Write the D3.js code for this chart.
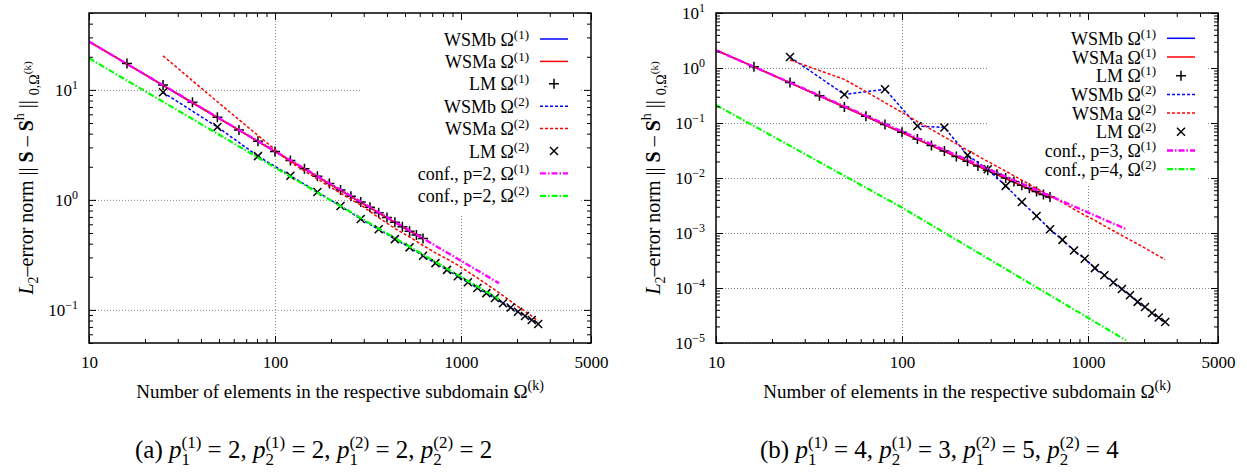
<!DOCTYPE html>
<html>
<head>
<meta charset="utf-8">
<script src="https://cdn.jsdelivr.net/npm/d3@7"></script>
<style>
  body { margin: 0; background: #fff; }
  svg { font-family: 'Liberation Serif', 'Times New Roman', serif; }
</style>
</head>
<body>
<svg width="1247" height="474"></svg>
<script>
// element counts on the two subdomains
const nOmega1 = [9, 16, 25, 36, 49, 64, 81, 100, 121, 144, 169, 196, 225, 256, 289, 324, 361, 400, 441, 484, 529, 576, 625];
const nOmega2 = [25, 49, 81, 121, 169, 225, 289, 361, 441, 529, 625, 729, 841, 961, 1089, 1225, 1369, 1521, 1681, 1849, 2025, 2209, 2401, 2601];

// panel (a)
const wsmbA1 = [30.6, 17.2, 11.0, 7.64, 5.61, 4.30, 3.40, 2.75, 2.27, 1.91, 1.63, 1.40, 1.22, 1.07, 0.95, 0.85, 0.76, 0.69, 0.62, 0.57, 0.52, 0.48, 0.44];
const wsmaA1 = [30.6, 17.2, 11.0, 7.64, 5.61, 4.30, 3.40, 2.75, 2.27, 1.91, 1.63, 1.40, 1.22, 1.07, 0.95, 0.85, 0.76, 0.69, 0.62, 0.57, 0.52, 0.48, 0.44];
const lmA1   = [30.6, 17.4, 11.1, 7.7, 5.64, 4.32, 3.42, 2.76, 2.28, 1.92, 1.64, 1.41, 1.23, 1.08, 0.955, 0.855, 0.765, 0.69, 0.625, 0.57, 0.52, 0.48, 0.445];
const wsmbA2 = [9.5, 4.6, 2.5, 1.66, 1.18, 0.88, 0.67, 0.54, 0.44, 0.37, 0.31, 0.266, 0.231, 0.202, 0.178, 0.158, 0.142, 0.128, 0.115, 0.105, 0.096, 0.088, 0.081, 0.0745];
const wsmaA2 = [20.4, 7.8, 3.85, 2.2, 1.55, 1.15, 0.9, 0.69, 0.55, 0.46, 0.385, 0.33, 0.29, 0.255, 0.222, 0.195, 0.172, 0.152, 0.135, 0.12, 0.107, 0.097, 0.088, 0.079];
const lmA2   = [9.5, 4.6, 2.5, 1.66, 1.18, 0.88, 0.67, 0.54, 0.44, 0.37, 0.31, 0.266, 0.231, 0.202, 0.178, 0.158, 0.142, 0.128, 0.115, 0.105, 0.096, 0.088, 0.081, 0.0745];
const confA1N = [10, 1600];
const confA1 = [27.5, 0.175];
const confA2N = [10, 1600];
const confA2 = [19.4, 0.125];

// panel (b)
const wsmbB1 = [2.48, 1.05, 0.536, 0.31, 0.195, 0.131, 0.092, 0.067, 0.0503, 0.0388, 0.0305, 0.0244, 0.0199, 0.0164, 0.0137, 0.0115, 0.0098, 0.0084, 0.0072, 0.0063, 0.0055, 0.0049, 0.0043];
const wsmaB1 = [2.48, 1.05, 0.536, 0.31, 0.195, 0.131, 0.092, 0.067, 0.0503, 0.0388, 0.0305, 0.0244, 0.0199, 0.0164, 0.0137, 0.0115, 0.0098, 0.0084, 0.0072, 0.0063, 0.0055, 0.0049, 0.0043];
const lmB1   = [2.48, 1.05, 0.545, 0.314, 0.195, 0.132, 0.094, 0.068, 0.051, 0.039, 0.031, 0.0247, 0.0201, 0.0166, 0.0139, 0.0117, 0.01, 0.0086, 0.0074, 0.0065, 0.0057, 0.005, 0.0045];
const wsmbB2 = [1.58, 0.33, 0.41, 0.088, 0.083, 0.026, 0.0144, 0.0072, 0.00366, 0.00204, 0.00117, 7.5e-4, 4.8e-4, 3.4e-4, 2.3e-4, 1.7e-4, 1.26e-4, 9.6e-5, 7.4e-5, 5.6e-5, 4.5e-5, 3.5e-5, 2.9e-5, 2.4e-5];
const wsmaB2 = [1.4, 0.62, 0.236, 0.106, 0.056, 0.032, 0.020, 0.0133, 0.0091, 0.0065, 0.0047, 0.0036, 0.0027, 0.0021, 0.0017, 0.00135, 0.0011, 0.0009, 0.00075, 0.00063, 0.00053, 0.00045, 0.00038, 0.00033];
const lmB2   = [1.58, 0.33, 0.41, 0.088, 0.083, 0.026, 0.0144, 0.0072, 0.00366, 0.00204, 0.00117, 7.5e-4, 4.8e-4, 3.4e-4, 2.3e-4, 1.7e-4, 1.26e-4, 9.6e-5, 7.4e-5, 5.6e-5, 4.5e-5, 3.5e-5, 2.9e-5, 2.4e-5];
const confB1N = [10, 1600];
const confB1 = [2.1, 0.00118];
const confB2N = [10, 100, 1600];
const confB2 = [0.212, 0.0029, 1.12e-5];

// ticks
const xTicks = [10, 100, 1000, 5000];
const xTickLabels = ['10', '100', '1000', '5000'];
const xGrid = [100, 1000];
const yTicksA = [0.1, 1, 10];
const yExpA = ['\u22121', '0', '1'];
const yTicksB = [1e-5, 1e-4, 1e-3, 1e-2, 1e-1, 1, 10];
const yExpB = ['\u22125', '\u22124', '\u22123', '\u22122', '\u22121', '0', '1'];

const legendA = ['WSMb \u03a9|(1)', 'WSMa \u03a9|(1)', 'LM \u03a9|(1)', 'WSMb \u03a9|(2)', 'WSMa \u03a9|(2)', 'LM \u03a9|(2)', 'conf., p=2, \u03a9|(1)', 'conf., p=2, \u03a9|(2)'];
const legendB = ['WSMb \u03a9|(1)', 'WSMa \u03a9|(1)', 'LM \u03a9|(1)', 'WSMb \u03a9|(2)', 'WSMa \u03a9|(2)', 'LM \u03a9|(2)', 'conf., p=3, \u03a9|(1)', 'conf., p=4, \u03a9|(2)'];

const svg = d3.select('svg');
const fontFamily = "'Liberation Serif', 'Times New Roman', serif";
const plotTop = 13, innerWidth = 502, innerHeight = 330;

// lays out text pieces one after another, sub/superscripts included
const piece = (g, q, cx) => g.append('text')
  .attr('x', cx)
  .attr('y', q.dy || 0)
  .attr('font-size', q.size)
  .attr('font-style', q.it ? 'italic' : null)
  .attr('font-weight', q.bold ? 'bold' : null)
  .text(q.t.replace(/ /g, '\u00a0'));

const rich = (parent, parts, anchor) => {
  const g = parent.append('g');
  let cx = 0;
  parts.forEach(p => {
    if (p.stack) {
      const w = p.stack.map(q => piece(g, q, cx).node().getComputedTextLength());
      cx += Math.max(...w);
    } else {
      cx += piece(g, p, cx).node().getComputedTextLength();
    }
  });
  const shift = anchor === 'end' ? -cx : anchor === 'middle' ? -cx / 2 : 0;
  g.selectAll('text').attr('x', function() { return +this.getAttribute('x') + shift; });
  return g;
};

const styles = {
  solidBlue: { color: '#0000ff', dash: null, width: 1.5 },
  solidRed: { color: '#ff0000', dash: null, width: 1.5 },
  dashBlue: { color: '#0000ff', dash: '3,2', width: 1.5 },
  dashRed: { color: '#ff0000', dash: '3,2', width: 1.5 },
  confMag: { color: '#ff00ff', dash: '6,2,1.5,2', width: 2.4 },
  confGreen: { color: '#00ff00', dash: '6,2,1.5,2', width: 2.2 }
};

const drawMarker = (g, type, cx, cy) => {
  const s = type === 'plus' ? 5 : 4;
  const path = type === 'plus'
    ? `M${cx - s},${cy}H${cx + s}M${cx},${cy - s}V${cy + s}`
    : `M${cx - s},${cy - s}L${cx + s},${cy + s}M${cx - s},${cy + s}L${cx + s},${cy - s}`;
  g.append('path').attr('d', path).attr('stroke', '#000').attr('stroke-width', 1.5).attr('fill', 'none');
};

const render = p => {
  const g = svg.append('g').attr('transform', `translate(${p.left},${plotTop})`);
  const xScale = d3.scaleLog().domain([10, 5000]).range([0, innerWidth]);
  const yScale = d3.scaleLog().domain(p.yDomain).range([innerHeight, 0]);

  // grid
  const gridX = g.append('g')
    .attr('transform', `translate(0,${innerHeight})`)
    .call(d3.axisBottom(xScale).tickValues(xGrid).tickSize(-innerHeight));
  const gridY = g.append('g')
    .call(d3.axisLeft(yScale).tickValues(p.yTicks).tickSize(-innerWidth));
  [gridX, gridY].forEach(a => {
    a.select('.domain').remove();
    a.selectAll('text').remove();
    a.selectAll('line').attr('stroke', '#8a8a8a').attr('stroke-dasharray', '1,2');
  });

  // opaque key box
  g.append('rect')
    .attr('x', 271).attr('y', 0)
    .attr('width', 219).attr('height', p.keyHeight)
    .attr('fill', '#fff');

  // data
  const clipId = 'clip' + p.name;
  g.append('clipPath').attr('id', clipId)
    .append('rect').attr('width', innerWidth).attr('height', innerHeight);
  const plot = g.append('g').attr('clip-path', `url(#${clipId})`);
  const line = d3.line().x(d => xScale(d[0])).y(d => yScale(d[1]));

  p.series.forEach(s => {
    const pts = s.n.map((n, i) => [n, s.v[i]]);
    if (s.marker) {
      pts.forEach(d => drawMarker(plot, s.marker, xScale(d[0]), yScale(d[1])));
    } else {
      plot.append('path')
        .attr('d', line(pts))
        .attr('fill', 'none')
        .attr('stroke', s.style.color)
        .attr('stroke-width', s.style.width)
        .attr('stroke-dasharray', s.style.dash);
    }
  });

  // ticks on all four sides
  const minorX = xScale.ticks().filter(t => !xTicks.includes(t));
  const minorY = yScale.ticks().filter(t => !p.yTicks.some(m => Math.abs(m - t) / t < 1e-6));
  const tickAxes = [
    [d3.axisBottom(xScale), `translate(0,${innerHeight})`, xTicks, minorX],
    [d3.axisTop(xScale), null, xTicks, minorX],
    [d3.axisLeft(yScale), null, p.yTicks, minorY],
    [d3.axisRight(yScale), `translate(${innerWidth},0)`, p.yTicks, minorY]
  ];
  tickAxes.forEach(([ax, tr, major, minor]) => {
    const a1 = g.append('g').attr('transform', tr)
      .call(ax.tickValues(major).tickSize(-7));
    const a2 = g.append('g').attr('transform', tr)
      .call(ax.tickValues(minor).tickSize(-4));
    [a1, a2].forEach(a => {
      a.select('.domain').remove();
      a.selectAll('text').remove();
      a.selectAll('line').attr('stroke', '#000').attr('stroke-width', 1);
    });
  });

  // tick labels
  const xLab = g.append('g')
    .attr('transform', `translate(0,${innerHeight})`)
    .call(d3.axisBottom(xScale).tickValues(xTicks).tickSize(0).tickPadding(13)
      .tickFormat((d, i) => xTickLabels[i]));
  const yLab = g.append('g')
    .call(d3.axisLeft(yScale).tickValues(p.yTicks).tickSize(0).tickPadding(11).tickFormat(() => '10'));
  [xLab, yLab].forEach(a => {
    a.select('.domain').remove();
    a.attr('font-family', fontFamily).attr('font-size', 17);
    a.selectAll('.tick line').remove();
    a.selectAll('.tick text').attr('fill', '#000');
  });
  yLab.selectAll('.tick text')
    .append('tspan')
    .attr('dy', '-0.55em')
    .attr('font-size', 12)
    .text((d, i) => p.yExp[i]);

  // frame
  g.append('rect')
    .attr('width', innerWidth).attr('height', innerHeight)
    .attr('fill', 'none').attr('stroke', '#000').attr('stroke-width', 1.5);

  // key
  p.legend.forEach((label, i) => {
    const ry = p.keyTop + i * p.keyStep;
    const [main, sup] = label.split('|');
    const t = rich(g, [
      { t: main, size: 18 },
      { t: sup, size: 13, dy: -7 }
    ], 'end');
    t.attr('transform', `translate(440,${ry + 6.5})`);
    const s = p.series[i];
    if (s.marker) {
      drawMarker(g, s.marker, 465, ry);
    } else {
      g.append('line')
        .attr('x1', 451).attr('x2', 479).attr('y1', ry).attr('y2', ry)
        .attr('stroke', s.style.color)
        .attr('stroke-width', s.style.width)
        .attr('stroke-dasharray', s.style.dash);
    }
  });

  // axis titles
  const xt = rich(g, [
    { t: 'Number of elements in the respective subdomain \u03a9', size: 19 },
    { t: '(k)', size: 14, dy: -8 }
  ], 'middle');
  xt.attr('transform', `translate(${innerWidth / 2},385)`);

  const yt = g.append('g').attr('transform', `translate(-56,${innerHeight / 2}) rotate(-90)`);
  rich(yt, [
    { t: 'L', size: 20, it: true },
    { t: '2', size: 14, dy: 5 },
    { t: '\u2013error norm || ', size: 20 },
    { t: 'S', size: 20, bold: true },
    { t: ' \u2013 ', size: 20 },
    { t: 'S', size: 20, bold: true },
    { t: 'h', size: 14, dy: -9 },
    { t: ' || ', size: 20 },
    { t: '0,\u03a9', size: 14, dy: 6 },
    { t: '(k)', size: 11, dy: -2 }
  ], 'middle');

  // caption
  const cap = [{ t: p.capLabel + ' ', size: 25 }];
  p.capValues.forEach((v, i) => {
    cap.push({ t: 'p', size: 25, it: true });
    cap.push({ stack: [
      { t: i < 2 ? '(1)' : '(2)', size: 17, dy: -10 },
      { t: i % 2 === 0 ? '1' : '2', size: 17, dy: 7 }
    ] });
    cap.push({ t: ' = ' + v + (i < 3 ? ', ' : ''), size: 25 });
  });
  rich(g, cap, 'start').attr('transform', `translate(${p.capX},445)`);
};

render({
  name: 'a', left: 89, yDomain: [0.05, 50], yTicks: yTicksA, yExp: yExpA,
  keyHeight: 203, keyTop: 26, keyStep: 22.4, legend: legendA,
  capLabel: '(a)', capValues: [2, 2, 2, 2], capX: 46,
  series: [
    { n: nOmega1, v: wsmbA1, style: styles.solidBlue },
    { n: nOmega1, v: wsmaA1, style: styles.solidRed },
    { n: nOmega1, v: lmA1, marker: 'plus' },
    { n: nOmega2, v: wsmbA2, style: styles.dashBlue },
    { n: nOmega2, v: wsmaA2, style: styles.dashRed },
    { n: nOmega2, v: lmA2, marker: 'cross' },
    { n: confA1N, v: confA1, style: styles.confMag },
    { n: confA2N, v: confA2, style: styles.confGreen }
  ]
});

render({
  name: 'b', left: 716, yDomain: [1e-5, 10], yTicks: yTicksB, yExp: yExpB,
  keyHeight: 173, keyTop: 25.3, keyStep: 18.7, legend: legendB,
  capLabel: '(b)', capValues: [4, 3, 5, 4], capX: 44,
  series: [
    { n: nOmega1, v: wsmbB1, style: styles.solidBlue },
    { n: nOmega1, v: wsmaB1, style: styles.solidRed },
    { n: nOmega1, v: lmB1, marker: 'plus' },
    { n: nOmega2, v: wsmbB2, style: styles.dashBlue },
    { n: nOmega2, v: wsmaB2, style: styles.dashRed },
    { n: nOmega2, v: lmB2, marker: 'cross' },
    { n: confB1N, v: confB1, style: styles.confMag },
    { n: confB2N, v: confB2, style: styles.confGreen }
  ]
});
</script>
</body>
</html>
